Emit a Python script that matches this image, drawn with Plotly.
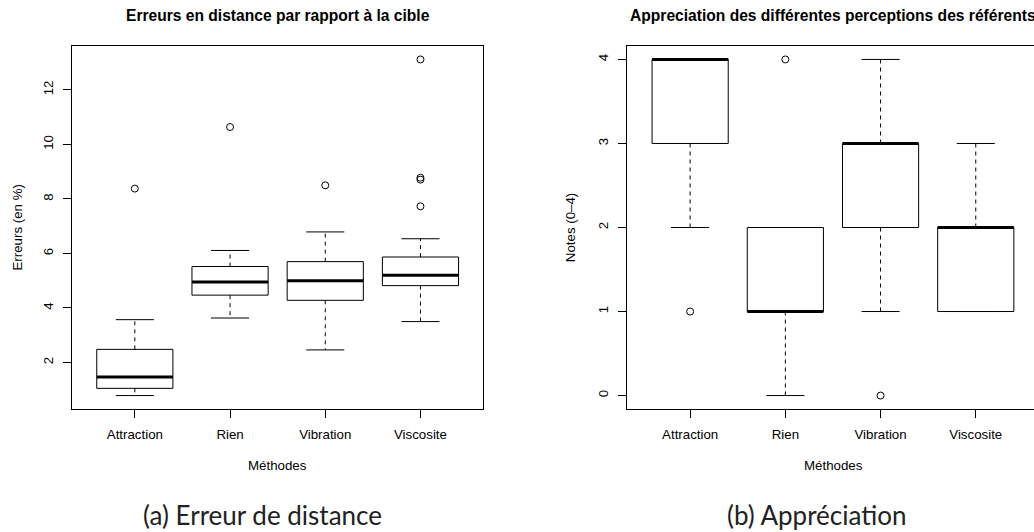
import plotly.graph_objects as go

W, H = 1034, 532

methods = ["Attraction", "Rien", "Vibration", "Viscosite"]

# Panel (a): Erreurs en distance (%)
err_low = [0.785, 3.63, 2.46, 3.50]
err_q1 = [1.05, 4.47, 4.28, 4.82]
err_med = [1.47, 4.95, 5.00, 5.20]
err_q3 = [2.48, 5.52, 5.70, 5.87]
err_high = [3.57, 6.11, 6.79, 6.54]
err_out_cat = ["Attraction", "Rien", "Vibration", "Viscosite", "Viscosite", "Viscosite", "Viscosite"]
err_out_val = [8.38, 10.64, 8.50, 13.12, 8.78, 8.71, 7.73]

# Panel (b): Notes (0-4)
note_low = [2, 0, 1, 1]
note_q1 = [3, 1, 2, 1]
note_med = [4, 1, 3, 2]
note_q3 = [4, 2, 3, 2]
note_high = [4, 2, 4, 3]
note_out_cat = ["Attraction", "Rien", "Vibration"]
note_out_val = [1, 4, 0]

y_ticks_a = [2, 4, 6, 8, 10, 12]
y_ticks_b = [0, 1, 2, 3, 4]

fig = go.Figure()

FONT = "Liberation Sans, Arial, sans-serif"
FS = 13.3


def add_boxes(xa, ya, low, q1, med, q3, high, out_cat, out_val):
    pos = {m: i + 1 for i, m in enumerate(methods)}
    bx, by, mx, my, wx, wy, cx, cy = [], [], [], [], [], [], [], []
    for i in range(len(methods)):
        p = i + 1
        bx += [p - 0.4, p + 0.4, p + 0.4, p - 0.4, p - 0.4, None]
        by += [q1[i], q1[i], q3[i], q3[i], q1[i], None]
        mx += [p - 0.4, p + 0.4, None]
        my += [med[i], med[i], None]
        wx += [p, p, None, p, p, None]
        wy += [q3[i], high[i], None, q1[i], low[i], None]
        cx += [p - 0.2, p + 0.2, None, p - 0.2, p + 0.2, None]
        cy += [high[i], high[i], None, low[i], low[i], None]
    common = dict(xaxis=xa, yaxis=ya, mode="lines", showlegend=False, hoverinfo="skip")
    fig.add_trace(go.Scatter(x=wx, y=wy, line=dict(color="black", width=1, dash="4px,4px"), **common))
    fig.add_trace(go.Scatter(x=cx, y=cy, line=dict(color="black", width=1), **common))
    fig.add_trace(go.Scatter(x=bx, y=by, line=dict(color="black", width=1), **common))
    fig.add_trace(go.Scatter(x=mx, y=my, line=dict(color="black", width=3), **common))
    fig.add_trace(go.Scatter(
        x=[pos[c] for c in out_cat], y=out_val, xaxis=xa, yaxis=ya, mode="markers",
        marker=dict(symbol="circle-open", size=7, color="black", line=dict(width=1)),
        showlegend=False, hoverinfo="skip"))


add_boxes("x", "y", err_low, err_q1, err_med, err_q3, err_high, err_out_cat, err_out_val)
add_boxes("x2", "y2", note_low, note_q1, note_med, note_q3, note_high, note_out_cat, note_out_val)


def r_range(vals):
    lo, hi = min(vals), max(vals)
    d = (hi - lo) * 0.04
    return [lo - d, hi + d]


ya_range = r_range(err_low + err_out_val + err_high)
yb_range = r_range(note_low + note_high + note_out_val)
x_range = [0.5 - 0.16, len(methods) + 0.5 + 0.16]

# pixel layout
a_left, a_right = 72, 483.3
b_left = 627.3
b_end = W  # right panel is cut by the page edge
px_per_unit = (a_right - a_left) / (x_range[1] - x_range[0])
b_right_val = x_range[0] + (b_end - b_left) / px_per_unit
top, bottom = 46, 409


def fx(s):
    return s / W


def fy(s):
    return 1 - s / H


xax = dict(tickvals=[1, 2, 3, 4], ticktext=methods, showgrid=False, zeroline=False,
           showline=True, linecolor="black", linewidth=1, ticks="outside", ticklen=8, mirror=True,
           tickcolor="black", tickfont=dict(family=FONT, size=FS, color="black"),
           ticklabelstandoff=5)
yax = dict(showgrid=False, zeroline=False, showline=True, linecolor="black", linewidth=1,
           ticks="outside", ticklen=8, tickcolor="black", tickangle=-90,
           tickfont=dict(family=FONT, size=FS, color="black"), ticklabelstandoff=5)

fig.update_layout(
    width=W, height=H, margin=dict(l=0, r=0, t=0, b=0),
    paper_bgcolor="white", plot_bgcolor="white",
    xaxis=dict(domain=[fx(a_left), fx(a_right)], anchor="y", range=x_range, **xax),
    yaxis=dict(domain=[fy(bottom), fy(top)], anchor="x", range=ya_range, tickvals=y_ticks_a,
               mirror=True, **yax),
    xaxis2=dict(domain=[fx(b_left), fx(b_end)], anchor="y2", range=[x_range[0], b_right_val], **xax),
    yaxis2=dict(domain=[fy(bottom), fy(top)], anchor="x2", range=yb_range, tickvals=y_ticks_b,
                mirror=False, **yax),
)

ann = []


def text(x, y, s, size=FS, bold=False, angle=0, family=FONT, color="black"):
    ann.append(dict(x=fx(x), y=fy(y), xref="paper", yref="paper", text=f"<b>{s}</b>" if bold else s,
                    showarrow=False, textangle=angle, xanchor="center", yanchor="middle",
                    font=dict(family=family, size=size, color=color)))


text(277.7, 15, "Erreurs en distance par rapport à la cible", size=15.6, bold=True)
text(833, 15, "Appreciation des différentes perceptions des référents", size=15.6, bold=True)
text(277.7, 465, "Méthodes")
text(833, 465, "Méthodes")
text(17, 227.5, "Erreurs (en %)", angle=-90)
text(570.7, 227.5, "Notes (0–4)", angle=-90)
text(262, 515, "(a) Erreur de distance", size=26, family="Lato, sans-serif", color="#222")
text(817, 515, "(b) Appréciation", size=26, family="Lato, sans-serif", color="#222")
fig.update_layout(annotations=ann)

fig.write_html("out.html", config={"displayModeBar": False},
               post_script="document.body.style.margin='0';document.body.style.overflow='hidden';")
